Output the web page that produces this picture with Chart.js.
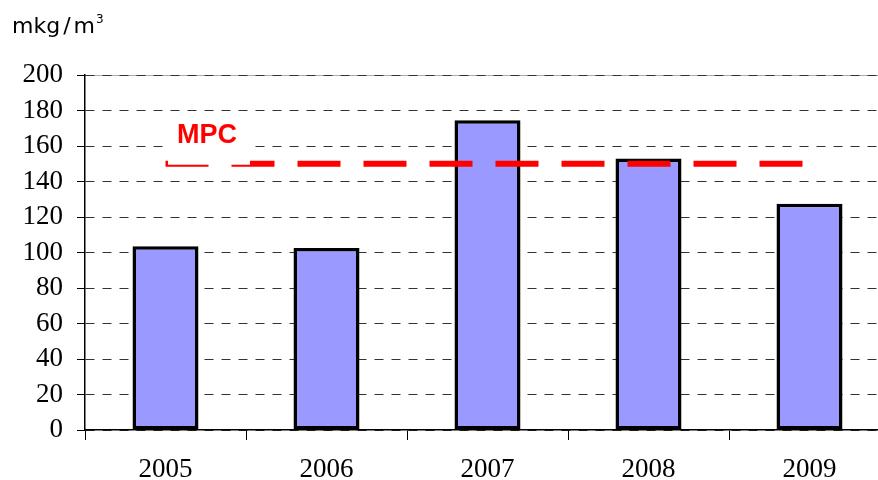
<!DOCTYPE html>
<html>
<head>
<meta charset="utf-8">
<script src="https://cdn.jsdelivr.net/npm/chart.js@4.4.1/dist/chart.umd.min.js"></script>
<style>
  html, body { margin: 0; padding: 0; background: #fff; overflow: hidden; }
  #wrap { position: relative; width: 890px; height: 480px; }
  #unit { position: absolute; left: 12px; top: 15px; font: 22px "DejaVu Sans", sans-serif; line-height: 1; color: #000; }
  #unit .sl { margin: 0 3px; }
  #unit sup { font-size: 12px; vertical-align: 0; position: relative; top: -10px; margin-left: 1px; }
</style>
</head>
<body>
<div id="wrap">
  <div id="unit">mkg<span class="sl">/</span>m<sup>3</sup></div>
  <canvas id="chart" width="890" height="480"></canvas>
</div>
<script>
// values
const years = ['2005', '2006', '2007', '2008', '2009'];
const concentration = [103.5, 102.5, 174.5, 153, 127.5];
const mpcLevel = [150, 150, 150, 150, 150];
const mpcLabel = 'MPC';
const yMin = 0;
const yMax = 200;
const yStep = 20;

const serif = 'Liberation Serif';

// light line under the dashed top gridline
const topLine = {
    id: 'topLine',
    beforeDraw(chart) {
        const { ctx, chartArea } = chart;
        ctx.save();
        ctx.strokeStyle = '#aaa';
        ctx.lineWidth = 1;
        ctx.beginPath();
        ctx.moveTo(chartArea.left, chartArea.top + 0.5);
        ctx.lineTo(chartArea.right, chartArea.top + 0.5);
        ctx.stroke();
        ctx.restore();
    }
};

// white box with the MPC label at the start of the limit line
const mpcBox = {
    id: 'mpcBox',
    afterDatasetsDraw(chart) {
        const { ctx, scales: { x, y } } = chart;
        const lineY = y.getPixelForValue(mpcLevel[0]);
        const left = x.getPixelForValue(0) + 2.5;
        ctx.save();
        ctx.fillStyle = '#fff';
        ctx.fillRect(left, lineY - 46, 82, 47);
        ctx.fillStyle = '#ff0000';
        ctx.font = 'bold 27px "Liberation Sans"';
        ctx.textAlign = 'center';
        ctx.textBaseline = 'middle';
        ctx.fillText(mpcLabel, left + 39, lineY - 28);
        ctx.restore();
    }
};

new Chart(document.getElementById('chart'), {
    type: 'bar',
    data: {
        labels: years,
        datasets: [
            {
                type: 'line',
                data: mpcLevel,
                borderColor: '#ff0000',
                borderWidth: 6,
                borderDash: [43, 23],
                borderCapStyle: 'butt',
                pointRadius: 0,
                fill: false,
                order: 0
            },
            {
                data: concentration,
                backgroundColor: '#9999ff',
                borderColor: '#000',
                borderWidth: 3.5,
                borderSkipped: false,
                categoryPercentage: 1,
                barPercentage: 0.41,
                order: 1
            }
        ]
    },
    options: {
        responsive: false,
        animation: false,
        devicePixelRatio: 1,
        layout: { padding: { top: 75, left: 0, right: 0, bottom: 0 } },
        plugins: {
            legend: { display: false },
            tooltip: { enabled: false }
        },
        scales: {
            x: {
                offset: true,
                grid: {
                    drawOnChartArea: false,
                    offset: true,
                    tickLength: 10,
                    color: '#000'
                },
                border: { color: '#000', width: 1.5 },
                ticks: {
                    color: '#000',
                    font: { family: serif, size: 27 },
                    padding: 14
                },
                afterFit(s) { s.height = 50; }
            },
            y: {
                min: yMin,
                max: yMax,
                ticks: {
                    stepSize: yStep,
                    autoSkip: false,
                    color: '#000',
                    font: { family: serif, size: 27 },
                    padding: 14
                },
                grid: {
                    color: '#333',
                    tickColor: '#000',
                    tickLength: 8,
                    lineWidth: 1
                },
                border: { color: '#000', width: 1.5, dash: [9, 8] },
                afterFit(s) { s.width = 85; }
            }
        }
    },
    plugins: [topLine, mpcBox]
});
</script>
</body>
</html>
